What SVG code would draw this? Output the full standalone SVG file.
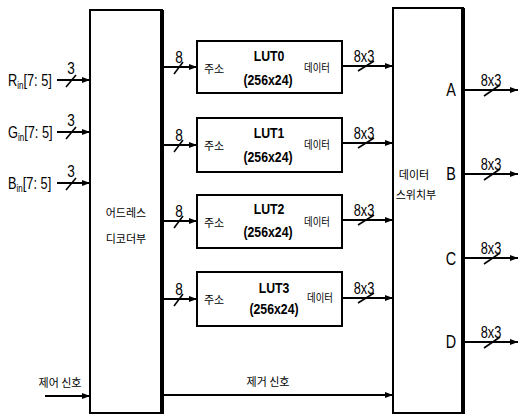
<svg xmlns="http://www.w3.org/2000/svg" width="521" height="416" viewBox="0 0 521 416">
<defs>
<marker id="ah" viewBox="0 0 8 6" refX="8" refY="3" markerWidth="8" markerHeight="6" markerUnits="userSpaceOnUse" orient="auto"><path d="M0,0 L8,3 L0,6 z" fill="#000"/></marker>
</defs>
<style>
.box{fill:#fff;stroke:#000;stroke-width:2}
.thick{stroke:#000;stroke-width:4}
.w{stroke:#000;stroke-width:2;fill:none}
.sl{stroke:#000;stroke-width:1.6}
.t{font-family:"Liberation Sans","Noto Sans CJK KR",sans-serif;font-size:16px;fill:#000}
.k{font-family:"Noto Sans CJK KR",sans-serif;font-size:11px;fill:#000}
.b{font-family:"Liberation Sans","Noto Sans CJK KR",sans-serif;font-size:15px;font-weight:bold;fill:#000}
.n{font-family:"Liberation Sans",sans-serif;font-size:18px;fill:#000}
</style>
<rect width="521" height="416" fill="#fff"/>
<g id="decoder">
<rect class="box" x="90" y="10" width="72" height="403"/>
<line class="thick" x1="162" y1="10" x2="162" y2="414"/>
<text class="k" x="126" y="217" text-anchor="middle">어드레스</text>
<text class="k" x="126" y="243" text-anchor="middle">디코더부</text>
</g>
<g id="lut0">
<rect class="box" x="197" y="41" width="145" height="52"/>
<text class="k" x="214" y="73" text-anchor="middle">주소</text>
<text class="b" text-anchor="middle" transform="translate(269 61) scale(0.82 1)">LUT0</text>
<text class="b" text-anchor="middle" transform="translate(268 85) scale(0.82 1)">(256x24)</text>
<text class="k" text-anchor="middle" transform="translate(317 72) scale(0.85 1)">데이터</text>
</g>
<g id="lut1">
<rect class="box" x="197" y="118" width="145" height="54"/>
<text class="k" x="214" y="150" text-anchor="middle">주소</text>
<text class="b" text-anchor="middle" transform="translate(269 138) scale(0.82 1)">LUT1</text>
<text class="b" text-anchor="middle" transform="translate(268 162) scale(0.82 1)">(256x24)</text>
<text class="k" text-anchor="middle" transform="translate(317 149) scale(0.85 1)">데이터</text>
</g>
<g id="lut2">
<rect class="box" x="197" y="195" width="145" height="53"/>
<text class="k" x="214" y="227" text-anchor="middle">주소</text>
<text class="b" text-anchor="middle" transform="translate(269 214) scale(0.82 1)">LUT2</text>
<text class="b" text-anchor="middle" transform="translate(268 237) scale(0.82 1)">(256x24)</text>
<text class="k" text-anchor="middle" transform="translate(317 226) scale(0.85 1)">데이터</text>
</g>
<g id="lut3">
<rect class="box" x="197" y="272" width="145" height="54"/>
<text class="k" x="214" y="304" text-anchor="middle">주소</text>
<text class="b" text-anchor="middle" transform="translate(274 293) scale(0.82 1)">LUT3</text>
<text class="b" text-anchor="middle" transform="translate(274 314) scale(0.82 1)">(256x24)</text>
<text class="k" text-anchor="middle" transform="translate(320 302) scale(0.85 1)">데이터</text>
</g>
<g id="switch">
<rect class="box" x="393" y="8" width="70" height="405"/>
<line class="thick" x1="463" y1="8" x2="463" y2="414"/>
<text class="k" x="414" y="179" text-anchor="middle">데이터</text>
<text class="k" x="416" y="199" text-anchor="middle">스위치부</text>
<text class="n" text-anchor="middle" transform="translate(451 96) scale(0.8 1)">A</text>
<text class="n" text-anchor="middle" transform="translate(451 180) scale(0.8 1)">B</text>
<text class="n" text-anchor="middle" transform="translate(451 265) scale(0.8 1)">C</text>
<text class="n" text-anchor="middle" transform="translate(451 348) scale(0.8 1)">D</text>
</g>
<g id="inputs">
<text class="t" transform="translate(8 86) scale(0.8 1)">R<tspan font-size="10" dy="3">in</tspan><tspan dy="-3">[7: 5]</tspan></text>
<text class="t" transform="translate(8 138) scale(0.8 1)">G<tspan font-size="10" dy="3">in</tspan><tspan dy="-3">[7: 5]</tspan></text>
<text class="t" transform="translate(8 189) scale(0.8 1)">B<tspan font-size="10" dy="3">in</tspan><tspan dy="-3">[7: 5]</tspan></text>
<text class="t" text-anchor="middle" transform="translate(71 74) scale(0.85 1)">3</text>
<text class="t" text-anchor="middle" transform="translate(71 126) scale(0.85 1)">3</text>
<text class="t" text-anchor="middle" transform="translate(71 177) scale(0.85 1)">3</text>
<text class="k" x="60" y="387" text-anchor="middle">제어 신호</text>
<text class="k" x="268" y="386" text-anchor="middle">제거 신호</text>
</g>
<g id="connectors">
<line class="w" x1="57" y1="80" x2="90" y2="80" marker-end="url(#ah)"/>
<line class="sl" x1="66" y1="87" x2="76" y2="75"/>
<line class="w" x1="57" y1="132" x2="90" y2="132" marker-end="url(#ah)"/>
<line class="sl" x1="66" y1="139" x2="76" y2="127"/>
<line class="w" x1="57" y1="183" x2="90" y2="183" marker-end="url(#ah)"/>
<line class="sl" x1="66" y1="190" x2="76" y2="178"/>
<line class="w" x1="45" y1="396" x2="90" y2="396" marker-end="url(#ah)"/>
<line class="w" x1="163" y1="395" x2="393" y2="395" marker-end="url(#ah)"/>

<line class="w" x1="163" y1="67" x2="197" y2="67" marker-end="url(#ah)"/>
<line class="sl" x1="174" y1="74" x2="183" y2="62"/>
<text class="t" text-anchor="middle" transform="translate(179 63) scale(0.85 1)">8</text>
<line class="w" x1="163" y1="145" x2="197" y2="145" marker-end="url(#ah)"/>
<line class="sl" x1="174" y1="152" x2="183" y2="140"/>
<text class="t" text-anchor="middle" transform="translate(179 141) scale(0.85 1)">8</text>
<line class="w" x1="163" y1="221" x2="197" y2="221" marker-end="url(#ah)"/>
<line class="sl" x1="174" y1="228" x2="183" y2="216"/>
<text class="t" text-anchor="middle" transform="translate(179 217) scale(0.85 1)">8</text>
<line class="w" x1="163" y1="299" x2="197" y2="299" marker-end="url(#ah)"/>
<line class="sl" x1="174" y1="306" x2="183" y2="294"/>
<text class="t" text-anchor="middle" transform="translate(179 295) scale(0.85 1)">8</text>

<line class="w" x1="342" y1="66" x2="393" y2="66" marker-end="url(#ah)"/>
<line class="sl" x1="358" y1="71" x2="374" y2="61"/>
<text class="t" text-anchor="middle" transform="translate(364 62) scale(0.8 1)">8x3</text>
<line class="w" x1="342" y1="143" x2="393" y2="143" marker-end="url(#ah)"/>
<line class="sl" x1="358" y1="148" x2="374" y2="138"/>
<text class="t" text-anchor="middle" transform="translate(364 139) scale(0.8 1)">8x3</text>
<line class="w" x1="342" y1="220" x2="393" y2="220" marker-end="url(#ah)"/>
<line class="sl" x1="358" y1="225" x2="374" y2="215"/>
<text class="t" text-anchor="middle" transform="translate(364 216) scale(0.8 1)">8x3</text>
<line class="w" x1="342" y1="298" x2="393" y2="298" marker-end="url(#ah)"/>
<line class="sl" x1="358" y1="303" x2="374" y2="293"/>
<text class="t" text-anchor="middle" transform="translate(364 294) scale(0.8 1)">8x3</text>

<line class="w" x1="464" y1="90" x2="518" y2="90" marker-end="url(#ah)"/>
<line class="sl" x1="484" y1="96" x2="500" y2="85"/>
<text class="t" text-anchor="middle" transform="translate(491 86) scale(0.8 1)">8x3</text>
<line class="w" x1="464" y1="174" x2="518" y2="174" marker-end="url(#ah)"/>
<line class="sl" x1="484" y1="180" x2="500" y2="169"/>
<text class="t" text-anchor="middle" transform="translate(491 170) scale(0.8 1)">8x3</text>
<line class="w" x1="464" y1="258" x2="518" y2="258" marker-end="url(#ah)"/>
<line class="sl" x1="484" y1="264" x2="500" y2="253"/>
<text class="t" text-anchor="middle" transform="translate(491 254) scale(0.8 1)">8x3</text>
<line class="w" x1="464" y1="342" x2="518" y2="342" marker-end="url(#ah)"/>
<line class="sl" x1="484" y1="348" x2="500" y2="337"/>
<text class="t" text-anchor="middle" transform="translate(491 338) scale(0.8 1)">8x3</text>
</g>
</svg>
